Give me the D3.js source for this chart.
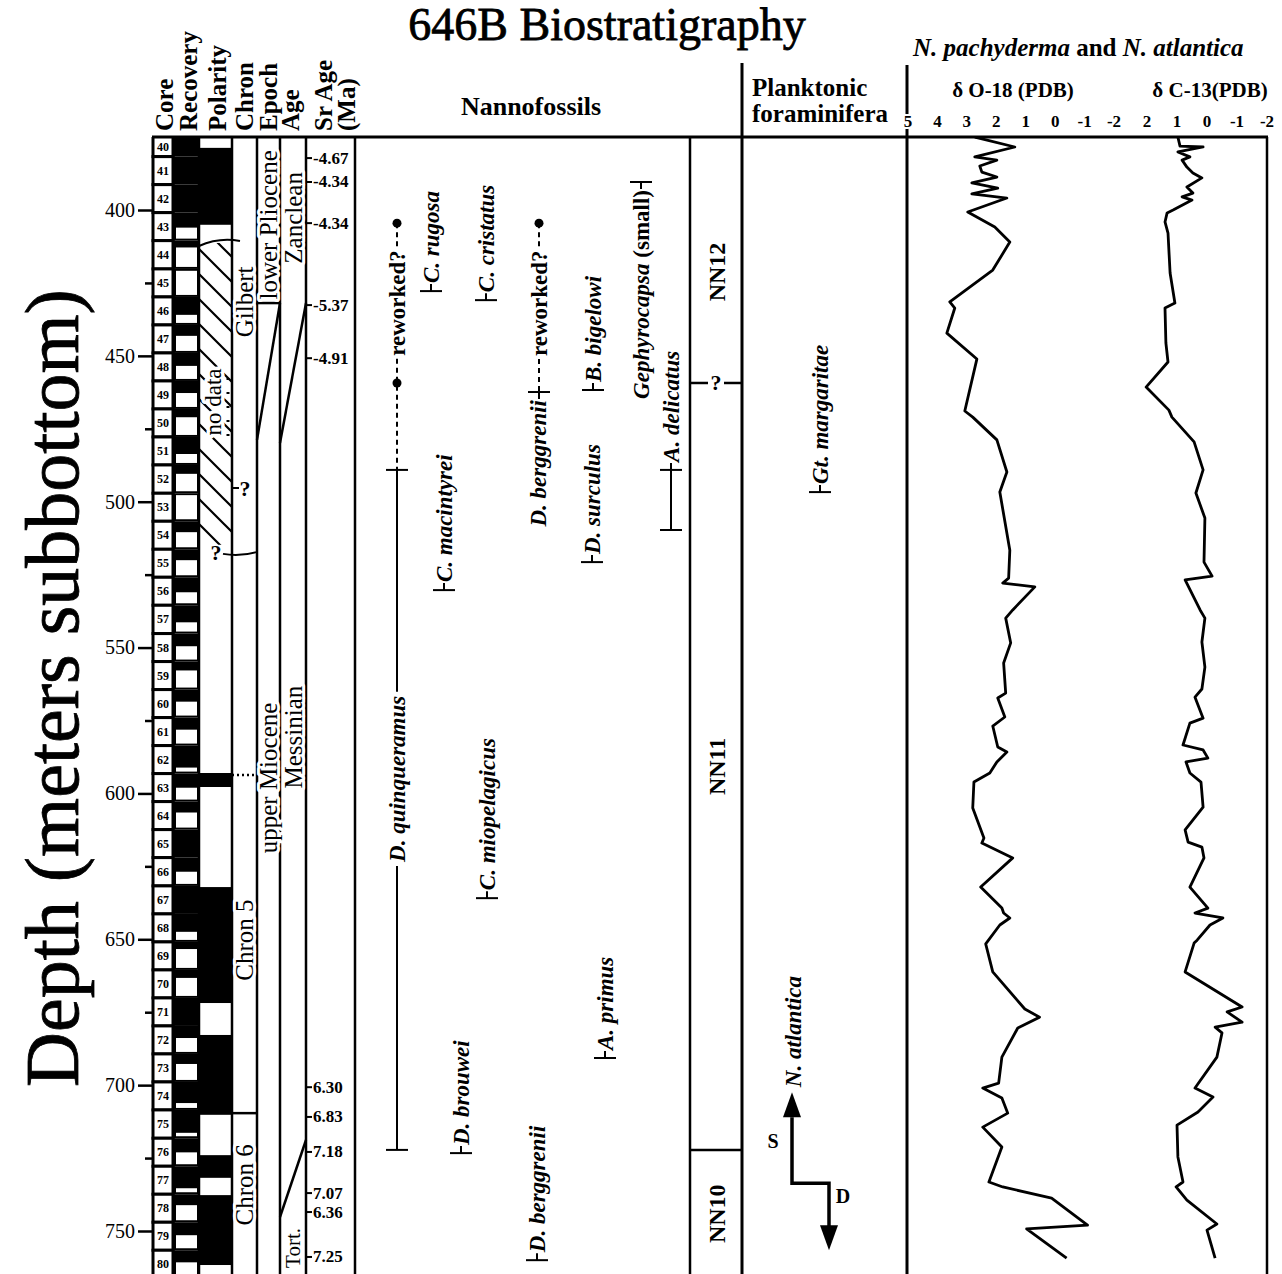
<!DOCTYPE html>
<html>
<head>
<meta charset="utf-8">
<script src="https://cdn.jsdelivr.net/npm/d3@7"></script>
<style>
  body { margin: 0; background: #fff; }
  svg { display: block; }
  text { font-family: "Liberation Serif", "Times New Roman", serif; fill: #000; }
</style>
</head>
<body>
<svg id="chart" width="1282" height="1274"></svg>
<script>
// ---- values (depth in metres subbottom) ----
const depthTicks = [400, 450, 500, 550, 600, 650, 700, 750]
const depthMinorTicks = [425, 475, 525, 575, 625, 675, 725]
const o18Ticks = [5, 4, 3, 2, 1, 0, -1, -2]
const c13Ticks = [2, 1, 0, -1, -2]

const coreNumbers = [40, 41, 42, 43, 44, 45, 46, 47, 48, 49, 50, 51, 52, 53, 54, 55, 56, 57, 58, 59, 60,
    61, 62, 63, 64, 65, 66, 67, 68, 69, 70, 71, 72, 73, 74, 75, 76, 77, 78, 79, 80]
const coreTops = [372.1, 381.7, 391.3, 400.9, 410.5, 420.2, 429.8, 439.4, 449.0, 458.6, 468.2,
    477.8, 487.4, 497.1, 506.7, 516.3, 525.9, 535.5, 545.2, 554.8, 564.4,
    574.0, 583.6, 593.2, 602.8, 612.4, 622.0, 631.7, 641.3, 650.9, 660.5,
    670.1, 679.7, 689.3, 698.9, 708.5, 718.2, 727.8, 737.4, 747.0, 756.6]
const lastCoreBase = 766.2
// recovered metres, measured from the top of each core
const coreRecovery = [9.6, 9.6, 9.6, 4.8, 2.0, 0.3, 5.8, 3.4, 4.1, 3.8, 2.5,
    5.5, 2.7, 0.3, 3.4, 3.4, 4.8, 5.5, 4.0, 2.7, 3.8,
    3.8, 7.2, 4.5, 3.4, 9.6, 4.5, 9.6, 5.8, 2.1, 2.4,
    8.6, 3.8, 3.1, 6.9, 7.5, 4.5, 7.2, 3.4, 4.1, 3.8]

// n = normal (black), r = reversed (white), x = no data
const polarity = [
    { top: 375.0, base: 378.7, type: 'r' },
    { top: 378.7, base: 405.1, type: 'n' },
    { top: 405.1, base: 411.3, type: 'r' },
    { top: 411.3, base: 514.8, type: 'x' },
    { top: 514.8, base: 593.0, type: 'r' },
    { top: 593.0, base: 597.8, type: 'n' },
    { top: 597.8, base: 632.1, type: 'r' },
    { top: 632.1, base: 671.9, type: 'n' },
    { top: 671.9, base: 682.8, type: 'r' },
    { top: 682.8, base: 710.2, type: 'n' },
    { top: 710.2, base: 724.0, type: 'r' },
    { top: 724.0, base: 731.8, type: 'n' },
    { top: 731.8, base: 737.7, type: 'r' },
    { top: 737.7, base: 761.7, type: 'n' },
    { top: 761.7, base: 766.0, type: 'r' }
]

const chronNames = ['Gilbert', 'Chron 5', 'Chron 6']
const chronBounds = [593.7, 709.6]
const epochNames = ['lower Pliocene', 'upper Miocene']
const ageNames = ['Zanclean', 'Messinian', 'Tort.']

const srDepths = [382.2, 390.4, 404.5, 432.6, 450.8, 700.7, 710.9, 722.9, 737.0, 743.5, 758.9]
const srLabels = ['4.67', '4.34', '4.34', '5.37', '4.91', '6.30', '6.83', '7.18', '7.07', '6.36', '7.25']

// single datum events: up = base marker with label above, down = top marker with label below
const nannoEvents = [
    { taxon: 'C. rugosa', depth: 427.8, dir: 'up' },
    { taxon: 'C. cristatus', depth: 430.9, dir: 'up' },
    { taxon: 'B. bigelowi', depth: 461.7, dir: 'up' },
    { taxon: 'D. surculus', depth: 520.7, dir: 'up' },
    { taxon: 'C. macintyrei', depth: 530.3, dir: 'up' },
    { taxon: 'C. miopelagicus', depth: 635.9, dir: 'up' },
    { taxon: 'A. primus', depth: 690.7, dir: 'up' },
    { taxon: 'D. brouwei', depth: 723.3, dir: 'up' },
    { taxon: 'D. berggrenii', depth: 760.0, dir: 'up' },
    { taxon: 'Gephyrocapsa', note: '(small)', depth: 390.4, dir: 'down' }
]
const quinqueramusRange = [489.1, 722.2]
const quinqueramusReworked = [404.5, 459.3]
const berggreniiTop = 462.4
const berggreniiReworked = 404.5
const delicatusRange = [489.1, 509.7]
const margaritaeBase = 496.7
const atlanticaShift = 733.6

const nnNames = ['NN12', 'NN11', 'NN10']
const nnBounds = [459.3, 722.2]

const o18Depth = [375.0, 378.4, 381.8, 382.9, 384.9, 387.0, 388.7, 390.7, 392.5, 394.5, 395.9, 400.7,
    405.8, 411.0, 420.6, 431.5, 433.6, 442.2, 451.1, 468.9, 471.0, 478.8, 489.8, 496.7,
    516.6, 526.2, 527.9, 529.2, 537.1, 539.9, 548.4, 555.3, 565.6, 567.3, 573.8, 576.9,
    584.1, 585.8, 589.2, 593.0, 596.1, 605.0, 615.3, 617.0, 622.1, 632.1, 639.3, 641.0,
    642.7, 645.1, 651.6, 661.2, 673.9, 676.7, 680.4, 690.4, 699.3, 701.0, 704.4, 709.6,
    714.4, 721.2, 733.2, 734.9, 738.7, 748.0, 749.3, 759.3]
const o18Value = [2.73, 1.37, 2.73, 1.98, 2.56, 2.49, 1.98, 2.83, 1.95, 2.83, 1.64, 2.97,
    2.05, 1.54, 2.12, 3.58, 3.41, 3.68, 2.66, 3.07, 2.80, 1.98, 1.64, 1.88,
    1.54, 1.58, 1.78, 0.69, 1.44, 1.68, 1.51, 1.75, 1.68, 1.95, 1.71, 2.12,
    1.95, 1.64, 1.98, 2.22, 2.76, 2.80, 2.42, 2.49, 1.44, 2.53, 1.81, 1.75,
    1.54, 1.88, 2.36, 2.12, 1.03, 0.53, 1.27, 1.81, 1.92, 2.46, 1.81, 1.61,
    2.46, 1.81, 2.25, 1.78, 0.12, -1.10, 0.97, -0.39]

const c13Depth = [375.0, 378.1, 378.4, 380.1, 381.8, 382.9, 385.3, 387.3, 389.0, 392.1, 394.2, 395.5,
    396.6, 400.0, 401.0, 404.1, 407.9, 421.6, 431.9, 433.6, 445.6, 452.1, 460.7, 468.6,
    471.0, 479.5, 489.1, 497.0, 505.6, 520.7, 525.5, 526.8, 537.1, 539.9, 548.1, 556.7,
    564.2, 567.0, 574.2, 575.9, 583.4, 585.1, 587.9, 589.2, 593.0, 596.1, 604.7, 612.5,
    616.7, 618.4, 622.1, 632.1, 639.3, 641.0, 642.7, 645.1, 650.3, 651.3, 661.2, 673.2,
    674.9, 678.4, 680.1, 682.1, 690.4, 701.0, 704.1, 709.2, 713.7, 724.6, 733.2, 734.9,
    739.4, 747.6, 749.7, 759.3]
const c13Value = [0.97, 0.90, 0.13, 0.97, 0.57, 0.83, 0.67, 0.47, 0.17, 0.67, 0.47, 0.83,
    0.50, 1.13, 1.33, 1.40, 1.30, 1.23, 1.07, 1.40, 1.37, 1.30, 2.03, 1.27,
    1.17, 0.43, 0.13, 0.37, 0.07, 0.10, -0.17, 0.73, 0.23, 0.07, 0.17, 0.07,
    0.17, 0.40, 0.13, 0.57, 0.80, 0.13, -0.03, 0.70, 0.57, 0.20, 0.13, 0.73,
    0.63, 0.17, 0.10, 0.57, -0.03, 0.40, -0.53, -0.10, 0.33, 0.43, 0.73, -1.17,
    -0.67, -1.17, -0.27, -0.50, -0.33, 0.40, -0.20, 0.30, 1.00, 0.97, 0.80, 1.03,
    0.67, -0.33, 0.00, -0.27]

// ---- layout ----
const W = 1282
const topY = 137
const botY = 1274
const col = {
    core0: 153, core1: 173, rec1: 199, pol1: 232, chron1: 257, epoch1: 280,
    age1: 306, sr1: 355, nn0: 690, nn1: 742, iso0: 907, iso1: 1267
}
const nannoX = {
    'C. rugosa': 431, 'C. cristatus': 486, 'B. bigelowi': 593, 'D. surculus': 592,
    'C. macintyrei': 444, 'C. miopelagicus': 487, 'A. primus': 605, 'D. brouwei': 461,
    'D. berggrenii': 537, 'Gephyrocapsa': 641
}
const quinqueX = 397
const berggTopX = 539
const delicatusX = 671
const margaritaeX = 820
const atlanticaX = 792
const spSize = 23

const y = d3.scaleLinear().domain([400, 750]).range([210, 1231])
const xO18 = d3.scaleLinear().domain([5, -2]).range([908, 1114])
const xC13 = d3.scaleLinear().domain([2, -2]).range([1147, 1267])

const svg = d3.select('#chart')
const defs = svg.append('defs')
defs.append('clipPath').attr('id', 'plotClip')
    .append('rect').attr('x', 0).attr('y', topY).attr('width', W).attr('height', botY - topY)
const hatch = defs.append('pattern').attr('id', 'hatch')
    .attr('patternUnits', 'userSpaceOnUse').attr('width', 25).attr('height', 25)
hatch.append('rect').attr('width', 25).attr('height', 25).attr('fill', '#fff')
hatch.append('path').attr('d', 'M-6,-6L31,31M-6,19L6,31M19,-6L31,6')
    .attr('stroke', '#000').attr('stroke-width', 2.2)

const plot = svg.append('g').attr('clip-path', 'url(#plotClip)')

// halo so that labels break the lines they sit on
function halo(sel, w) {
    return sel.attr('stroke', '#fff').attr('stroke-width', w || 6)
        .attr('paint-order', 'stroke').attr('stroke-linejoin', 'round')
}
function vText(parent, x, yy, txt, size, anchor) {
    return parent.append('text')
        .attr('transform', `translate(${x},${yy}) rotate(-90)`)
        .attr('text-anchor', anchor || 'middle')
        .attr('dominant-baseline', 'central')
        .attr('font-size', size)
        .text(txt)
}

// ---- title and headers ----
svg.append('text').attr('x', 607).attr('y', 40).attr('text-anchor', 'middle')
    .attr('font-size', 46).attr('stroke', '#000').attr('stroke-width', 0.8)
    .text('646B Biostratigraphy')

vText(svg, 52, 688, 'Depth (meters subbottom)', 76).attr('stroke', '#000').attr('stroke-width', 0.8)

const headerCols = [
    { t: 'Core', x: 164 }, { t: 'Recovery', x: 188 }, { t: 'Polarity', x: 217 },
    { t: 'Chron', x: 244 }, { t: 'Epoch', x: 268 }, { t: 'Age', x: 290 },
    { t: 'Sr Age', x: 323 }, { t: '(Ma)', x: 346 }
]
headerCols.forEach(h => {
    vText(svg, h.x, 131, h.t, 25, 'start').attr('font-weight', 'bold')
})
svg.append('text').attr('x', 531).attr('y', 115).attr('text-anchor', 'middle')
    .attr('font-size', 26).attr('font-weight', 'bold').text('Nannofossils')
svg.append('text').attr('x', 752).attr('y', 96)
    .attr('font-size', 25).attr('font-weight', 'bold').text('Planktonic')
svg.append('text').attr('x', 752).attr('y', 122)
    .attr('font-size', 25).attr('font-weight', 'bold').text('foraminifera')

const spHead = svg.append('text').attr('x', 913).attr('y', 56)
    .attr('font-size', 25).attr('font-weight', 'bold')
spHead.append('tspan').attr('font-style', 'italic').text('N. pachyderma')
spHead.append('tspan').text(' and ')
spHead.append('tspan').attr('font-style', 'italic').text('N. atlantica')

svg.append('text').attr('x', 1013).attr('y', 97).attr('text-anchor', 'middle')
    .attr('font-size', 21).attr('font-weight', 'bold').text('δ O-18 (PDB)')
svg.append('text').attr('x', 1210).attr('y', 97).attr('text-anchor', 'middle')
    .attr('font-size', 21).attr('font-weight', 'bold').text('δ C-13(PDB)')

const tickG = svg.append('g')
tickG.selectAll('text.o').data(o18Ticks).enter().append('text').attr('class', 'o')
    .attr('x', d => xO18(d)).attr('y', 127).attr('text-anchor', 'middle')
    .attr('font-size', 17).attr('font-weight', 'bold').text(d => d)
tickG.selectAll('text.c').data(c13Ticks).enter().append('text').attr('class', 'c')
    .attr('x', d => xC13(d)).attr('y', 127).attr('text-anchor', 'middle')
    .attr('font-size', 17).attr('font-weight', 'bold').text(d => d)

// ---- depth axis ----
const axisMajor = svg.append('g').attr('transform', `translate(${col.core0 - 1},0)`)
    .call(d3.axisLeft(y).tickValues(depthTicks).tickSize(14).tickPadding(3).tickFormat(d3.format('d')))
axisMajor.attr('font-family', null).attr('font-size', null)
axisMajor.select('.domain').remove()
axisMajor.selectAll('line').attr('stroke-width', 2.5)
axisMajor.selectAll('text').attr('font-size', 20)
const axisMinor = svg.append('g').attr('transform', `translate(${col.core0 - 1},0)`)
    .call(d3.axisLeft(y).tickValues(depthMinorTicks).tickSize(7).tickFormat(''))
axisMinor.select('.domain').remove()
axisMinor.selectAll('line').attr('stroke-width', 2.5)

// ---- cores and recovery ----
const coreBase = (i) => i < coreTops.length - 1 ? coreTops[i + 1] : lastCoreBase
coreNumbers.forEach((n, i) => {
    const t = coreTops[i], b = coreBase(i)
    plot.append('rect').attr('x', col.core1).attr('y', y(t))
        .attr('width', col.rec1 - col.core1).attr('height', y(b) - y(t)).attr('fill', '#000')
    if (coreRecovery[i] < b - t - 0.3) {
        const r0 = y(t + coreRecovery[i]) + 1
        plot.append('rect').attr('x', col.core1 + 3).attr('y', r0)
            .attr('width', col.rec1 - col.core1 - 5).attr('height', Math.max(0, y(b) - 2 - r0))
            .attr('fill', '#fff')
    }
    plot.append('rect').attr('x', col.core0).attr('y', y(t))
        .attr('width', col.core1 - col.core0).attr('height', y(b) - y(t))
        .attr('fill', '#fff').attr('stroke', '#000').attr('stroke-width', 3)
    const vis0 = Math.max(y(t), topY)
    plot.append('text').attr('x', (col.core0 + col.core1) / 2).attr('y', (vis0 + y(b)) / 2)
        .attr('text-anchor', 'middle').attr('dominant-baseline', 'central')
        .attr('font-size', 12).attr('font-weight', 'bold').text(n)
})

// ---- polarity ----
plot.selectAll('rect.pol').data(polarity).enter().append('rect').attr('class', 'pol')
    .attr('x', col.rec1).attr('y', d => y(d.top))
    .attr('width', col.pol1 - col.rec1).attr('height', d => y(d.base) - y(d.top))
    .attr('fill', d => d.type === 'n' ? '#000' : d.type === 'x' ? 'url(#hatch)' : '#fff')
const nd = polarity.find(d => d.type === 'x')
plot.append('path')
    .attr('d', `M${col.rec1},${y(nd.top) + 3} Q${col.rec1 + 20},${y(nd.top) - 6} ${col.pol1 + 8},${y(nd.top) - 2}`)
    .attr('fill', 'none').attr('stroke', '#000').attr('stroke-width', 2)
halo(vText(plot, 213, 402, 'no data', 23), 7)
plot.append('line').attr('x1', 228).attr('x2', 228).attr('y1', 378).attr('y2', 446)
    .attr('stroke', '#000').attr('stroke-width', 3).attr('stroke-dasharray', '2,12')
plot.append('text').attr('x', 216).attr('y', y(nd.base) + 8).attr('text-anchor', 'middle')
    .attr('dominant-baseline', 'central').attr('font-size', 22).attr('font-weight', 'bold').text('?')
plot.append('path')
    .attr('d', `M223,${y(nd.base) + 9} Q240,${y(nd.base) + 12} ${col.chron1},${y(nd.base) + 7}`)
    .attr('fill', 'none').attr('stroke', '#000').attr('stroke-width', 2)

// ---- chron column ----
plot.append('line').attr('x1', col.pol1).attr('x2', col.pol1 + 7)
    .attr('y1', y(495.3)).attr('y2', y(495.3)).attr('stroke', '#000').attr('stroke-width', 2)
plot.append('text').attr('x', col.pol1 + 13).attr('y', y(495.3)).attr('text-anchor', 'middle')
    .attr('dominant-baseline', 'central').attr('font-size', 22).attr('font-weight', 'bold').text('?')
plot.append('line').attr('x1', col.pol1).attr('x2', col.chron1)
    .attr('y1', y(chronBounds[0])).attr('y2', y(chronBounds[0]))
    .attr('stroke', '#000').attr('stroke-width', 2.5).attr('stroke-dasharray', '2,3')
plot.append('line').attr('x1', col.pol1).attr('x2', col.chron1)
    .attr('y1', y(chronBounds[1])).attr('y2', y(chronBounds[1]))
    .attr('stroke', '#000').attr('stroke-width', 2.5)

// ---- epoch / age boundaries ----
const bLines = [
    [col.chron1, 431.9, col.epoch1, 431.9],
    [col.epoch1, 431.9, col.chron1, 478.8],
    [col.age1, 431.9, col.epoch1, 479.9],
    [col.age1, 718.8, col.epoch1, 745.2]
]
bLines.forEach(l => {
    plot.append('line').attr('x1', l[0]).attr('y1', y(l[1])).attr('x2', l[2]).attr('y2', y(l[3]))
        .attr('stroke', '#000').attr('stroke-width', 2.5)
})

// ---- Sr ages ----
srDepths.forEach((d, i) => {
    plot.append('line').attr('x1', col.age1).attr('x2', col.age1 + 6)
        .attr('y1', y(d)).attr('y2', y(d)).attr('stroke', '#000').attr('stroke-width', 2)
    plot.append('text').attr('x', col.age1 + 7).attr('y', y(d)).attr('dominant-baseline', 'central')
        .attr('font-size', 17).attr('font-weight', 'bold')
        .text(i < 5 ? '-' + srLabels[i] : srLabels[i])
})

// ---- vertical column rules (drawn before the column labels) ----
const rules = [col.rec1, col.pol1, col.chron1, col.epoch1, col.age1, col.sr1, col.nn0, col.iso1]
rules.forEach(x => {
    plot.append('line').attr('x1', x).attr('x2', x).attr('y1', topY).attr('y2', botY)
        .attr('stroke', '#000').attr('stroke-width', 2.5)
})
svg.append('line').attr('x1', col.nn1).attr('x2', col.nn1).attr('y1', 63).attr('y2', botY)
    .attr('stroke', '#000').attr('stroke-width', 3)
svg.append('line').attr('x1', col.iso0).attr('x2', col.iso0).attr('y1', 65).attr('y2', botY)
    .attr('stroke', '#000').attr('stroke-width', 3)
svg.append('line').attr('x1', col.core0 - 1).attr('x2', col.iso1 + 1).attr('y1', topY).attr('y2', topY)
    .attr('stroke', '#000').attr('stroke-width', 3)
// tick labels sit over the left rule of the isotope panel
tickG.raise()
halo(tickG.selectAll('text'), 4)

// column labels
halo(vText(plot, 244, y(431.5), chronNames[0], 25))
halo(vText(plot, 244, y(650.3), chronNames[1], 25))
halo(vText(plot, 244, y(734.2), chronNames[2], 25))
halo(vText(plot, 268, y(405.1), epochNames[0], 25))
halo(vText(plot, 268, y(594.7), epochNames[1], 25))
halo(vText(plot, 293, y(402.7), ageNames[0], 25))
halo(vText(plot, 293, y(580.7), ageNames[1], 25))
halo(vText(plot, 293, y(755.8), ageNames[2], 21))

// ---- nannofossil events ----
function baseMark(x, d) {
    const yy = y(d)
    plot.append('line').attr('x1', x - 11).attr('x2', x + 11).attr('y1', yy).attr('y2', yy)
        .attr('stroke', '#000').attr('stroke-width', 2)
}
function stub(x, y0, y1) {
    plot.append('line').attr('x1', x).attr('x2', x).attr('y1', y0).attr('y2', y1)
        .attr('stroke', '#000').attr('stroke-width', 2)
}
function spLabel(x, yy, taxon, note, anchor) {
    const t = plot.append('text')
        .attr('transform', `translate(${x},${yy}) rotate(-90)`)
        .attr('text-anchor', anchor).attr('dominant-baseline', 'central')
        .attr('font-size', spSize).attr('font-weight', 'bold')
    t.append('tspan').attr('font-style', 'italic').text(taxon)
    if (note) t.append('tspan').text('  ' + note)
    return t
}
nannoEvents.forEach(e => {
    const x = nannoX[e.taxon], yy = y(e.depth)
    baseMark(x, e.depth)
    if (e.dir === 'up') {
        stub(x, yy, yy - 7)
        spLabel(x, yy - 8, e.taxon, e.note, 'start')
    } else {
        stub(x, yy, yy + 7)
        spLabel(x, yy + 8, e.taxon, e.note, 'end')
    }
})

// D. quinqueramus range, label set into the line
baseMark(quinqueX, quinqueramusRange[0])
baseMark(quinqueX, quinqueramusRange[1])
const qLab = spLabel(quinqueX, y(595), 'D. quinqueramus', null, 'middle')
const qLen = qLab.node().getComputedTextLength()
stub(quinqueX, y(quinqueramusRange[0]), y(595) - qLen / 2 - 4)
stub(quinqueX, y(595) + qLen / 2 + 4, y(quinqueramusRange[1]))

// reworked dashed extensions
function reworked(x, dTop, dMid, dEnd, withDotMid) {
    const yT = y(dTop), yM = y(dMid), yE = y(dEnd)
    const lab = plot.append('text')
        .attr('transform', `translate(${x},${(yT + yM) / 2}) rotate(-90)`)
        .attr('text-anchor', 'middle').attr('dominant-baseline', 'central')
        .attr('font-size', spSize).attr('font-weight', 'bold').text('reworked?')
    const len = lab.node().getComputedTextLength()
    const segs = [[yT, (yT + yM) / 2 - len / 2 - 3], [(yT + yM) / 2 + len / 2 + 3, yE]]
    segs.forEach(s => {
        plot.append('line').attr('x1', x).attr('x2', x).attr('y1', s[0]).attr('y2', s[1])
            .attr('stroke', '#000').attr('stroke-width', 2).attr('stroke-dasharray', '5,4')
    })
    plot.append('circle').attr('cx', x).attr('cy', yT).attr('r', 4.5).attr('fill', '#000')
    if (withDotMid) plot.append('circle').attr('cx', x).attr('cy', yM).attr('r', 4.5).attr('fill', '#000')
}
reworked(quinqueX, quinqueramusReworked[0], quinqueramusReworked[1], quinqueramusRange[0], true)
reworked(berggTopX, berggreniiReworked, berggreniiTop - 3, berggreniiTop, false)
baseMark(berggTopX, berggreniiTop)
stub(berggTopX, y(berggreniiTop), y(berggreniiTop) + 7)
spLabel(berggTopX - 1, y(berggreniiTop) + 8, 'D. berggrenii', null, 'end')

// A. delicatus range
baseMark(delicatusX, delicatusRange[0])
baseMark(delicatusX, delicatusRange[1])
stub(delicatusX, y(delicatusRange[0]), y(delicatusRange[1]))
stub(delicatusX, y(delicatusRange[0]), y(delicatusRange[0]) - 7)
spLabel(delicatusX, y(delicatusRange[0]) - 8, 'A. delicatus', null, 'start')

// ---- NN zones ----
const nnEdges = [375].concat(nnBounds, [766])
nnNames.forEach((n, i) => {
    const c = (y(nnEdges[i]) + y(Math.min(nnEdges[i + 1], 766))) / 2
    vText(plot, 717, c + (i === 0 ? 12 : 0), n, 24).attr('font-weight', 'bold')
})
plot.append('line').attr('x1', col.nn0).attr('x2', 708).attr('y1', y(nnBounds[0])).attr('y2', y(nnBounds[0]))
    .attr('stroke', '#000').attr('stroke-width', 2.5)
plot.append('line').attr('x1', 724).attr('x2', col.nn1).attr('y1', y(nnBounds[0])).attr('y2', y(nnBounds[0]))
    .attr('stroke', '#000').attr('stroke-width', 2.5)
plot.append('text').attr('x', 716).attr('y', y(nnBounds[0])).attr('text-anchor', 'middle')
    .attr('dominant-baseline', 'central').attr('font-size', 22).attr('font-weight', 'bold').text('?')
plot.append('line').attr('x1', col.nn0).attr('x2', col.nn1).attr('y1', y(nnBounds[1])).attr('y2', y(nnBounds[1]))
    .attr('stroke', '#000').attr('stroke-width', 2.5)

// ---- planktonic foraminifera ----
baseMark(margaritaeX, margaritaeBase)
stub(margaritaeX, y(margaritaeBase), y(margaritaeBase) - 7)
spLabel(margaritaeX, y(margaritaeBase) - 8, 'Gt. margaritae', null, 'start')

const ys = y(atlanticaShift)
const ax2 = atlanticaX + 37
plot.append('path')
    .attr('d', `M${atlanticaX},${ys - 66} V${ys} H${ax2} V${ys + 44}`)
    .attr('fill', 'none').attr('stroke', '#000').attr('stroke-width', 3.5)
plot.append('path')
    .attr('d', `M${atlanticaX},${ys - 91} L${atlanticaX - 9},${ys - 66} L${atlanticaX + 9},${ys - 66}Z`)
plot.append('path')
    .attr('d', `M${ax2},${ys + 67} L${ax2 - 9},${ys + 42} L${ax2 + 9},${ys + 42}Z`)
plot.append('text').attr('x', atlanticaX - 19).attr('y', ys - 42).attr('text-anchor', 'middle')
    .attr('dominant-baseline', 'central').attr('font-size', 20).attr('font-weight', 'bold').text('S')
plot.append('text').attr('x', ax2 + 14).attr('y', ys + 13).attr('text-anchor', 'middle')
    .attr('dominant-baseline', 'central').attr('font-size', 20).attr('font-weight', 'bold').text('D')
spLabel(atlanticaX + 1, ys - 96, 'N. atlantica', null, 'start')

// ---- isotope curves ----
const o18 = o18Depth.map((d, i) => ({ d, v: o18Value[i] }))
const c13 = c13Depth.map((d, i) => ({ d, v: c13Value[i] }))
plot.append('path').datum(o18)
    .attr('d', d3.line().x(p => xO18(p.v)).y(p => y(p.d)))
    .attr('fill', 'none').attr('stroke', '#000').attr('stroke-width', 2.8).attr('stroke-linejoin', 'round')
plot.append('path').datum(c13)
    .attr('d', d3.line().x(p => xC13(p.v)).y(p => y(p.d)))
    .attr('fill', 'none').attr('stroke', '#000').attr('stroke-width', 2.8).attr('stroke-linejoin', 'round')
</script>
</body>
</html>
